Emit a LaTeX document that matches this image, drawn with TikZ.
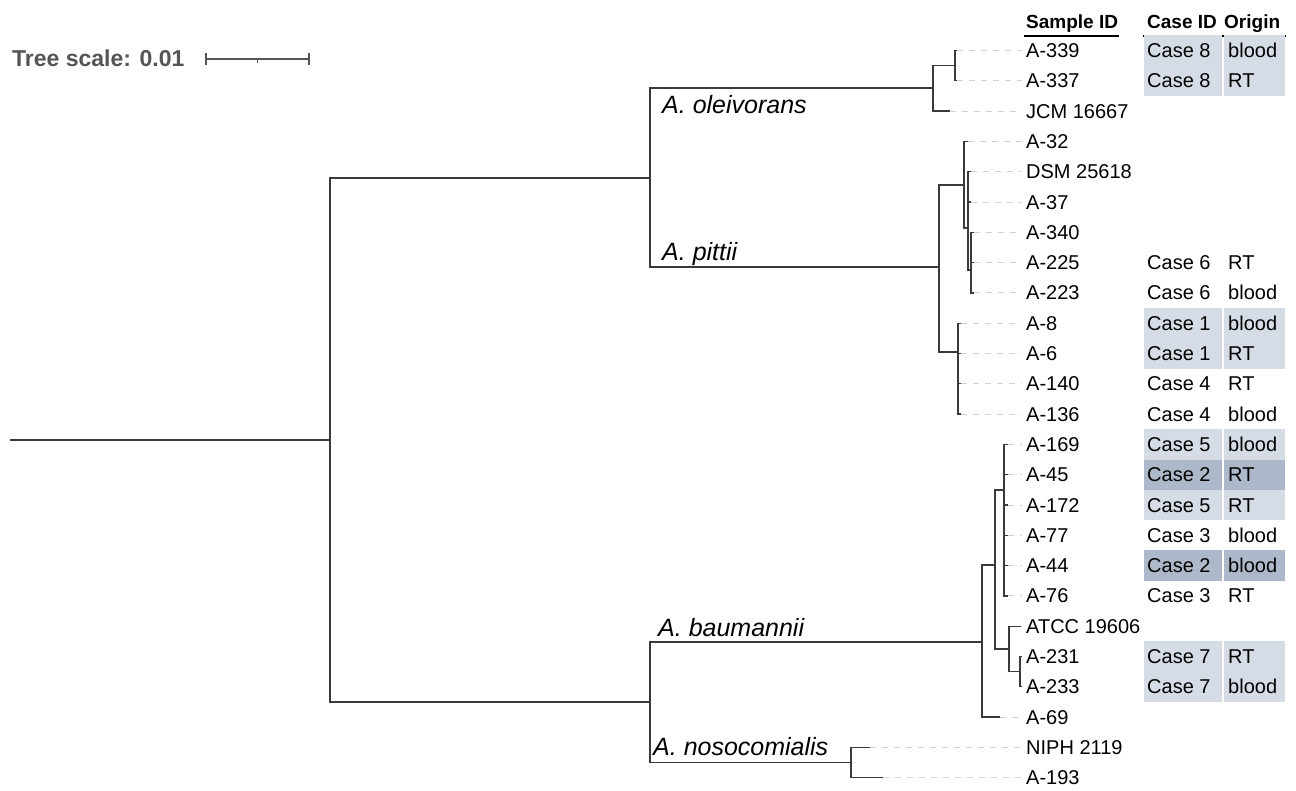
\documentclass[tikz,border=0pt]{standalone}
\usepackage{fontspec}
\setmainfont{Liberation Sans}
\definecolor{treegray}{HTML}{3A3A3A}
\definecolor{dashgray}{HTML}{D2D2D2}
\definecolor{lightc}{HTML}{D6DCE5}
\definecolor{darkc}{HTML}{ADB9CA}
\definecolor{scalegray}{HTML}{555555}
\begin{document}
\begin{tikzpicture}[x=1pt,y=-1pt,
  br/.style={draw=treegray,line width=1.3pt},
  dsh/.style={draw=dashgray,line width=1pt,dash pattern=on 6pt off 6pt},
  leaf/.style={anchor=base west,inner sep=0pt,font=\fontsize{20}{24}\selectfont},
  clade/.style={anchor=base west,inner sep=0pt,font=\fontsize{25}{30}\selectfont\itshape},
  hdr/.style={anchor=base west,inner sep=0pt,font=\fontsize{19}{23}\selectfont\bfseries},
  lcell/.style={fill=lightc,draw=none},
  dcell/.style={fill=darkc,draw=none},
  sbar/.style={draw=scalegray,line width=1.8pt}]
\useasboundingbox (0,0) rectangle (1296,790);

% scale bar
\node[anchor=base west,inner sep=0pt,text=scalegray,font=\fontsize{23}{27}\selectfont\bfseries] (scaletxt) at (12,66) {Tree scale: 0.01};
\coordinate (sbA) at (206,59);
\coordinate (sbB) at (309,59);
\coordinate (sbM) at (257.5,59);
\draw[sbar] (sbA) -- (sbB);
\draw[sbar] ([yshift=-6pt]sbA) -- ([yshift=6pt]sbA);
\draw[sbar] ([yshift=-6pt]sbB) -- ([yshift=6pt]sbB);
\draw[sbar] (sbM) -- ([yshift=-3.5pt]sbM);

% headers
\node[hdr] (hS) at (1026,28) {Sample ID};
\node[hdr] (hC) at (1147,28) {Case ID};
\node[hdr] (hO) at (1224,28) {Origin};
\coordinate (uS1) at (1024,36); \coordinate (uS2) at (1119,36);
\coordinate (uC1) at (1143,36); \coordinate (uC2) at (1286,36);
\draw[line width=1.5pt] (uS1) -- (uS2);
\draw[line width=1.5pt] (uC1) -- (uC2);

% table cells
\foreach \i/\st in {0/lcell,1/lcell,9/lcell,10/lcell,13/lcell,14/dcell,15/lcell,17/dcell,20/lcell,21/lcell}{
  \path[\st] (1144,{50.5+30.3*\i-15.15}) rectangle (1222,{50.5+30.3*\i+15.15});
  \path[\st] (1224,{50.5+30.3*\i-15.15}) rectangle (1285,{50.5+30.3*\i+15.15});
}
\foreach \i/\cs/\org in {0/8/blood,1/8/RT,7/6/RT,8/6/blood,9/1/blood,10/1/RT,11/4/RT,12/4/blood,13/5/blood,14/2/RT,15/5/RT,16/3/blood,17/2/blood,18/3/RT,20/7/RT,21/7/blood}{
  \node[leaf] (c\i) at (1147,{50.5+30.3*\i+7}) {Case \cs};
  \node[leaf] (o\i) at (1228,{50.5+30.3*\i+7}) {\org};
}

% internal nodes
\coordinate (R0) at (10,440);
\coordinate (R) at (330,440);
\coordinate (U) at (650,178);
\coordinate (L) at (650,702);
\coordinate (O1) at (933,88);
\coordinate (O2) at (955,65.65);
\coordinate (P1) at (939,267);
\coordinate (P2) at (964,185);
\coordinate (P3) at (968,228);
\coordinate (P4) at (971,270);
\coordinate (P5) at (958,352);
\coordinate (B1) at (982,642);
\coordinate (B2) at (995,565);
\coordinate (B4) at (1004,490);
\coordinate (B3) at (1009,649);
\coordinate (B5) at (1020,671.65);
\coordinate (N) at (851,762.55);

\draw[br] (R0) -- (R);
\draw[br] (R) |- (U);
\draw[br] (R) |- (L);
\draw[br] (U) |- (O1);
\draw[br] (U) |- (P1);
\draw[br] (L) |- (B1);
\draw[br] (L) |- (N);
\draw[br] (O1) |- (O2);
\draw[br] (P1) |- (P2);
\draw[br] (P1) |- (P5);
\draw[br] (P2) |- (P3);
\draw[br] (P3) |- (P4);
\draw[br] (B1) |- (B2);
\draw[br] (B2) |- (B4);
\draw[br] (B2) |- (B3);
\draw[br] (B3) |- (B5);

% leaves
\foreach \i/\lab/\tx/\pa in {0/A-339/957/O2,1/A-337/957/O2,2/JCM 16667/950/O1,
  3/A-32/968/P2,4/DSM 25618/971/P3,5/A-37/971/P3,6/A-340/974/P4,7/A-225/974/P4,8/A-223/974/P4,
  9/A-8/961/P5,10/A-6/961/P5,11/A-140/961/P5,12/A-136/961/P5,
  13/A-169/1008/B4,14/A-45/1008/B4,15/A-172/1008/B4,16/A-77/1008/B4,17/A-44/1008/B4,18/A-76/1008/B4,
  19/ATCC 19606/1021/B3,20/A-231/1022/B5,21/A-233/1022/B5,22/A-69/1000/B1,
  23/NIPH 2119/870/N,24/A-193/883/N}{
  \coordinate (t\i) at (\tx,{50.5+30.3*\i});
  \coordinate (d\i) at (1022,{50.5+30.3*\i});
  \node[leaf] (l\i) at (1026,{50.5+30.3*\i+7}) {\lab};
  \draw[dsh] (t\i) -- (d\i);
  \draw[br] (\pa) |- (t\i);
}

% clade labels
\node[clade] (cOle) at (662,113) {A. oleivorans};
\node[clade] (cPit) at (662,260) {A. pittii};
\node[clade] (cBau) at (658,636) {A. baumannii};
\node[clade] (cNos) at (653,755) {A. nosocomialis};
\end{tikzpicture}
\end{document}
